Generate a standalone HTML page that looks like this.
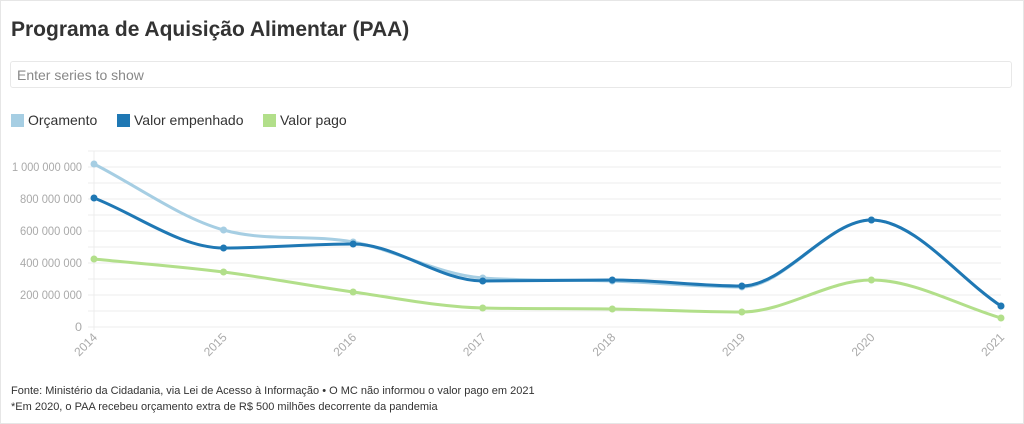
<!DOCTYPE html>
<html><head><meta charset="utf-8"><style>
body{margin:0;width:1024px;height:424px;background:#fff;font-family:"Liberation Sans",sans-serif;overflow:hidden}
.frame{position:absolute;left:0;top:0;width:1022px;height:422px;border:1px solid #e6e6e6}
h1{position:absolute;left:11px;top:18px;margin:0;font-size:21px;font-weight:bold;color:#333}
.inp{position:absolute;left:10px;top:61px;width:1002px;height:27px;border:1px solid #e8e8e8;border-radius:3px;font-size:14px;color:#888;line-height:27px;padding-left:6px;box-sizing:border-box}
.leg{position:absolute;top:112px;font-size:14px;color:#333;line-height:16px}
.leg i{display:inline-block;width:13px;height:13px;vertical-align:-2px;margin-right:4px}
.src{position:absolute;left:11px;font-size:11px;color:#333}
</style></head><body>
<div class="frame"></div>
<h1>Programa de Aquisição Alimentar (PAA)</h1>
<div class="inp">Enter series to show</div>
<div class="leg" style="left:11px"><i style="background:#a6cee3"></i>Orçamento</div>
<div class="leg" style="left:117px"><i style="background:#1f78b4"></i>Valor empenhado</div>
<div class="leg" style="left:263px"><i style="background:#b2df8a"></i>Valor pago</div>
<svg id="c" width="1024" height="424" style="position:absolute;left:0;top:0"></svg>
<div class="src" style="top:385px">Fonte: Ministério da Cidadania, via Lei de Acesso à Informação • O MC não informou o valor pago em 2021</div>
<div class="src" style="top:401px">*Em 2020, o PAA recebeu orçamento extra de R$ 500 milhões decorrente da pandemia</div>
<script>
var s='',x0=94,dx=129.57;
for(var i=0;i<=11;i++){var y=327-i*16;s+='<line x1="88" x2="1001" y1="'+y+'" y2="'+y+'" stroke="#ececec"/>';}
s+='<line x1="94" x2="94" y1="151" y2="330" stroke="#ececec"/>';
var labs=['0','200 000 000','400 000 000','600 000 000','800 000 000','1 000 000 000'];
for(var i=0;i<6;i++)s+='<text x="82" y="'+(331-i*32)+'" text-anchor="end" font-size="12" fill="#aaa" font-family="Liberation Sans" textLength="'+(i==0?7:i==5?70:62)+'" lengthAdjust="spacingAndGlyphs">'+labs[i]+'</text>';
for(var i=0;i<8;i++){var x=x0+i*dx;s+='<text transform="translate('+(x+4)+',338) rotate(-45)" text-anchor="end" font-size="12" fill="#aaa" font-family="Liberation Sans">'+(2014+i)+'</text>';}
function path(ys){var n=ys.length,h=dx,dl=[],m=[];
for(var i=0;i<n-1;i++)dl.push((ys[i+1]-ys[i])/h);
for(var i=0;i<n;i++){if(i==0)m.push(dl[0]);else if(i==n-1)m.push(dl[n-2]);else{var a=dl[i-1],b=dl[i];m.push(a*b<=0?0:(a+b)/2*Math.min(1,3*Math.min(Math.abs(a),Math.abs(b))/Math.max(Math.abs((a+b)/2),1e-9)));}}
var p=ys.map(function(y,i){return[x0+i*dx,y]});var d='M'+p[0];
for(var i=0;i<n-1;i++){d+=' C'+(p[i][0]+h/3)+','+(p[i][1]+m[i]*h/3)+' '+(p[i+1][0]-h/3)+','+(p[i+1][1]-m[i+1]*h/3)+' '+p[i+1];}return [d,p];}
var S=[['#a6cee3',[164,230,242,278,281,287,220,306]],['#b2df8a',[259,272,292,308,309,312,280,318]],['#1f78b4',[198,248,244,281,280,286,220,306]]];
S.forEach(function(q){var r=path(q[1]);s+='<path d="'+r[0]+'" fill="none" stroke="'+q[0]+'" stroke-width="3"/>';
r[1].forEach(function(pt){s+='<circle cx="'+pt[0]+'" cy="'+pt[1]+'" r="3.5" fill="'+q[0]+'"/>';});});
document.getElementById('c').innerHTML=s;
</script>
</body></html>
